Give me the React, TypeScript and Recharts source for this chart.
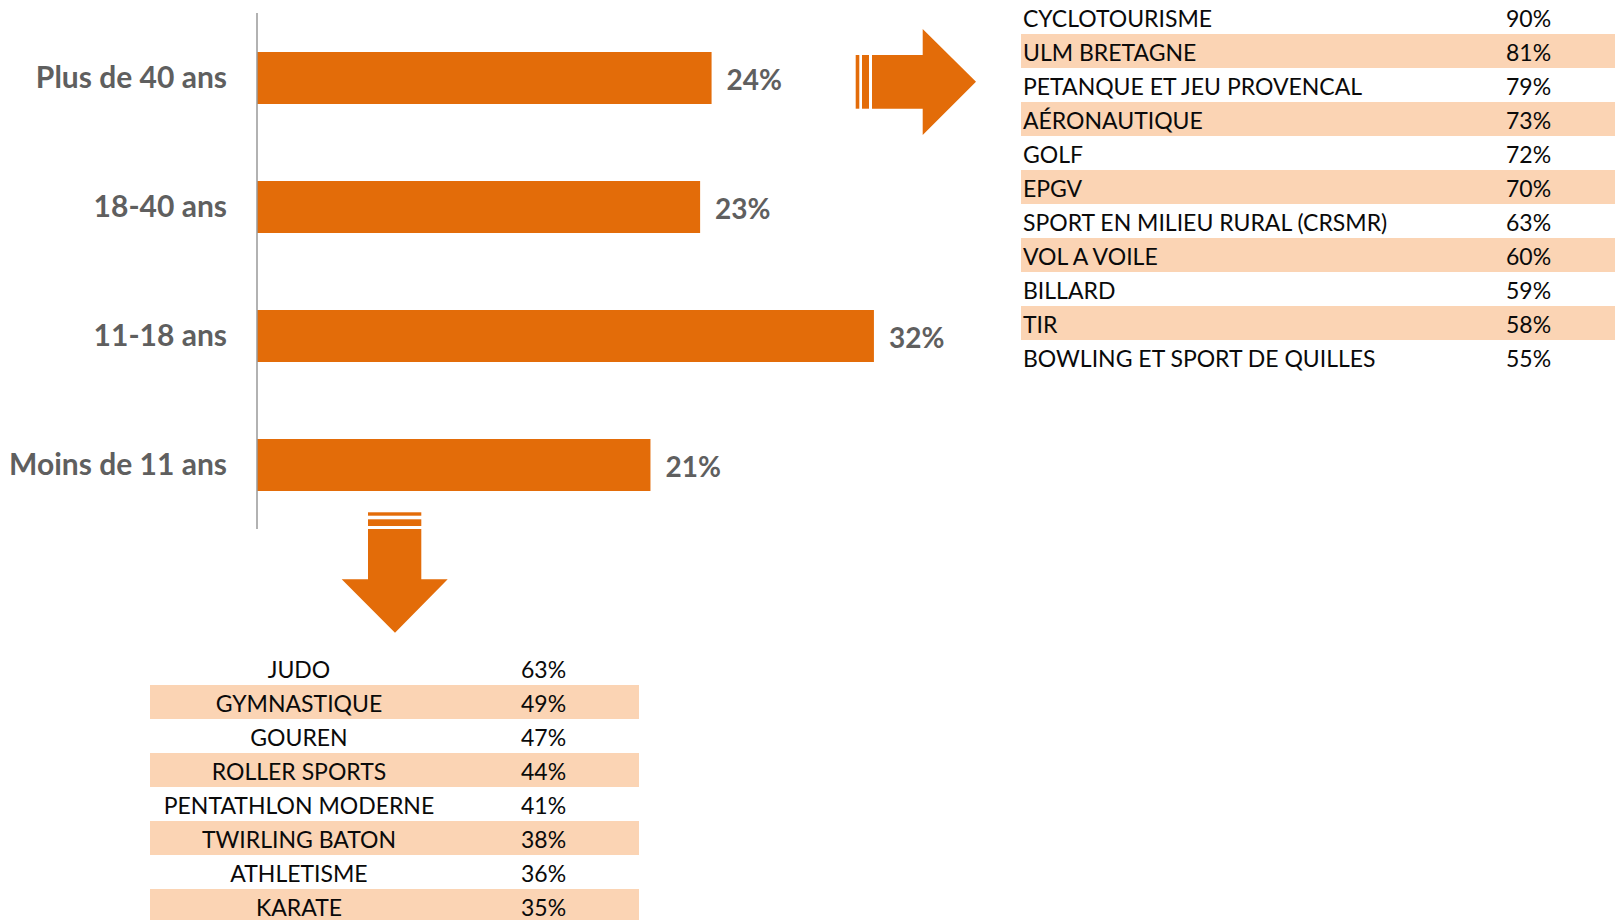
import React from 'react';
import { BarChart, Bar, XAxis, YAxis, LabelList } from 'recharts';

// ---- Data ----
const ageCategories = ['Plus de 40 ans', '18-40 ans', '11-18 ans', 'Moins de 11 ans'];
const ageShares = [23.8, 23.2, 32.3, 20.6];
const ageLabels = ['24%', '23%', '32%', '21%'];

const adultSports = [
  'CYCLOTOURISME',
  'ULM BRETAGNE',
  'PETANQUE ET JEU PROVENCAL',
  'AÉRONAUTIQUE',
  'GOLF',
  'EPGV',
  'SPORT EN MILIEU RURAL (CRSMR)',
  'VOL A VOILE',
  'BILLARD',
  'TIR',
  'BOWLING ET SPORT DE QUILLES',
];
const adultShares = [90, 81, 79, 73, 72, 70, 63, 60, 59, 58, 55];

const youthSports = [
  'JUDO',
  'GYMNASTIQUE',
  'GOUREN',
  'ROLLER SPORTS',
  'PENTATHLON MODERNE',
  'TWIRLING BATON',
  'ATHLETISME',
  'KARATE',
];
const youthShares = [63, 49, 47, 44, 41, 38, 36, 35];

const ORANGE = '#E36C09';
const BAND = '#FBD4B4';
const GRAY_TEXT = '#5f5f5f';
const FONT = 'Lato, "Open Sans", sans-serif';

const chartData = ageCategories.map((name, i) => ({
  name,
  value: ageShares[i],
  label: ageLabels[i],
}));

function Arrows() {
  return (
    <svg width={1615} height={920} style={{ position: 'absolute', left: 0, top: 0, pointerEvents: 'none' }}>
      {/* right striped arrow */}
      <rect x={855.7} y={55} width={3.6} height={53.7} fill={ORANGE} />
      <rect x={862} y={55} width={7} height={53.7} fill={ORANGE} />
      <polygon
        points="872,55 922.7,55 922.7,29 976,81.7 922.7,135 922.7,108.7 872,108.7"
        fill={ORANGE}
      />
      {/* down striped arrow */}
      <rect x={368} y={512.3} width={53.3} height={3.4} fill={ORANGE} />
      <rect x={368} y={519.3} width={53.3} height={6.7} fill={ORANGE} />
      <polygon
        points="368,529 421.3,529 421.3,579.3 447.7,579.3 395,632.7 341.7,579.3 368,579.3"
        fill={ORANGE}
      />
    </svg>
  );
}

const rowStyle = (i: number): React.CSSProperties => ({
  position: 'relative',
  height: 34,
  lineHeight: '36px',
  background: i % 2 === 1 ? BAND : 'transparent',
  fontFamily: FONT,
  fontSize: 23,
  color: '#0a0a0a',
  whiteSpace: 'nowrap',
});

function AdultTable() {
  return (
    <div style={{ position: 'absolute', left: 1021, top: 0, width: 594 }}>
      {adultSports.map((s, i) => (
        <div key={s} style={rowStyle(i)}>
          <span style={{ position: 'absolute', left: 2 }}>{s}</span>
          <span style={{ position: 'absolute', left: 485 }}>{adultShares[i]}%</span>
        </div>
      ))}
    </div>
  );
}

function YouthTable() {
  return (
    <div style={{ position: 'absolute', left: 150, top: 651, width: 489 }}>
      {youthSports.map((s, i) => (
        <div key={s} style={rowStyle(i)}>
          <span style={{ position: 'absolute', left: 0, width: 298, textAlign: 'center' }}>{s}</span>
          <span style={{ position: 'absolute', left: 371 }}>{youthShares[i]}%</span>
        </div>
      ))}
    </div>
  );
}

export default function App() {
  return (
    <div
      style={{
        position: 'absolute',
        left: 0,
        top: 0,
        width: 1615,
        height: 920,
        overflow: 'hidden',
        background: '#fff',
      }}
    >
      <div style={{ position: 'absolute', left: 0, top: 0 }}>
        <BarChart
          width={1040}
          height={540}
          data={chartData}
          layout="vertical"
          margin={{ top: 13, right: 19, bottom: 11, left: 0 }}
        >
          <XAxis type="number" domain={[0, 40]} hide />
          <YAxis
            type="category"
            dataKey="name"
            width={257}
            interval={0}
            tickLine={false}
            tickSize={0}
            tickMargin={30}
            axisLine={{ stroke: '#999999', strokeWidth: 1.5 }}
            tick={{ fill: GRAY_TEXT, fontSize: 30, fontWeight: 700, fontFamily: FONT }}
          />
          <Bar dataKey="value" fill={ORANGE} barSize={52} isAnimationActive={false}>
            <LabelList
              dataKey="label"
              position="right"
              offset={15}
              dy={2}
              fill={GRAY_TEXT}
              fontSize={28}
              fontWeight={700}
              fontFamily={FONT}
            />
          </Bar>
        </BarChart>
      </div>
      <Arrows />
      <AdultTable />
      <YouthTable />
    </div>
  );
}
